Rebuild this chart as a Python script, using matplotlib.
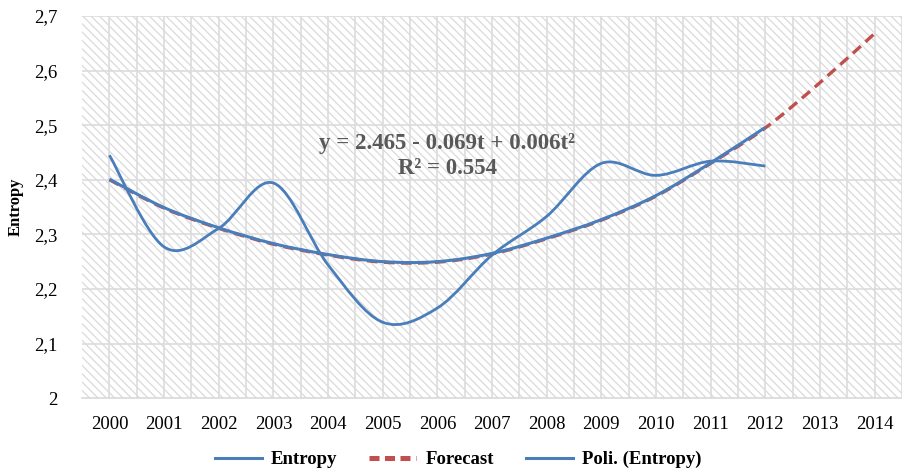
import matplotlib
matplotlib.use("Agg")
import matplotlib.pyplot as plt
from matplotlib.path import Path
from matplotlib.patches import PathPatch, Rectangle
from matplotlib.lines import Line2D
import numpy as np

plt.rcParams['font.family'] = ['Liberation Serif', 'DejaVu Serif']
plt.rcParams['hatch.color'] = '#dadada'
plt.rcParams['hatch.linewidth'] = 0.9

# data
years = ['2000', '2001', '2002', '2003', '2004', '2005', '2006', '2007',
         '2008', '2009', '2010', '2011', '2012', '2013', '2014']
entropy = [2.445, 2.277, 2.311, 2.394, 2.244, 2.139, 2.165, 2.262,
           2.333, 2.430, 2.408, 2.434, 2.425]
forecast = [2.400, 2.348, 2.311, 2.282, 2.262, 2.249, 2.249, 2.264,
            2.292, 2.326, 2.370, 2.430, 2.495, 2.578, 2.668]
poly = [2.401, 2.349, 2.312, 2.283, 2.263, 2.250, 2.250, 2.265,
        2.293, 2.327, 2.371, 2.431, 2.496]

blue = '#4a7ebb'
red = '#c0504d'


def smooth_path(ys):
    # excel-like smoothed line: cubic bezier through the points
    pts = np.column_stack([np.arange(len(ys)), ys]).astype(float)
    verts = [pts[0]]
    codes = [Path.MOVETO]
    n = len(pts)
    for i in range(n - 1):
        p0 = pts[i - 1] if i > 0 else pts[i]
        p3 = pts[i + 2] if i + 2 < n else pts[i + 1]
        c1 = pts[i] + (pts[i + 1] - p0) / 6
        c2 = pts[i + 1] - (p3 - pts[i]) / 6
        verts += [c1, c2, pts[i + 1]]
        codes += [Path.CURVE4] * 3
    return Path(verts, codes)


fig = plt.figure(figsize=(9.02, 4.70), dpi=100)
ax = fig.add_axes([0.091, 0.153, 0.909, 0.813])
ax.set_xlim(-0.5, 14.5)
ax.set_ylim(2.0, 2.7)

ax.add_patch(Rectangle((0, 0), 1, 1, transform=ax.transAxes, facecolor='white',
                       edgecolor='#dadada', hatch='\\\\\\\\', lw=0, zorder=0))

for yv in np.arange(2.1, 2.71, 0.1):
    ax.axhline(yv, color='#dcdcdc', lw=1.2, zorder=1)
for xv in np.arange(0, 14.6, 0.5):
    ax.axvline(xv, color='#dcdcdc', lw=1.2, zorder=1)

ax.add_patch(PathPatch(smooth_path(forecast), fill=False, edgecolor=red, lw=2.4,
                       linestyle=(0, (3.2, 1.9)), zorder=3, capstyle='butt'))
ax.add_patch(PathPatch(smooth_path(poly), fill=False, edgecolor=blue, lw=2.2, zorder=4))
ax.add_patch(PathPatch(smooth_path(entropy), fill=False, edgecolor=blue, lw=2.0, zorder=5))

ax.set_xticks(range(len(years)))
ax.set_xticklabels(years)
ax.set_yticks([2.0, 2.1, 2.2, 2.3, 2.4, 2.5, 2.6, 2.7])
ax.set_yticklabels(['2', '2,1', '2,2', '2,3', '2,4', '2,5', '2,6', '2,7'])
ax.tick_params(axis='both', length=0, labelsize=13.5, colors='#000000')
ax.tick_params(axis='x', pad=13)
ax.tick_params(axis='y', pad=18)
for s in ['top', 'right', 'left']:
    ax.spines[s].set_visible(False)
ax.spines['bottom'].set_color('#d9d9d9')
ax.spines['bottom'].set_linewidth(1.2)

ax.set_ylabel('Entropy', fontsize=12, fontweight='bold')
ax.yaxis.set_label_coords(-0.071, 0.5)

ax.text(6.18, 2.467, 'y = 2.465 - 0.069t + 0.006t²', ha='center', va='center',
        fontsize=16.5, fontweight='bold', color='#595959', zorder=6)
ax.text(6.18, 2.421, 'R² = 0.554', ha='center', va='center',
        fontsize=16.5, fontweight='bold', color='#595959', zorder=6)

handles = [Line2D([], [], color=blue, lw=2.2),
           Line2D([], [], color=red, lw=3.6, linestyle=(0, (2.0, 1.1)),
                  dash_capstyle='butt'),
           Line2D([], [], color=blue, lw=2.2)]
fig.legend(handles, ['Entropy', 'Forecast', 'Poli. (Entropy)'], loc='lower center',
           bbox_to_anchor=(0.508, -0.032), ncol=3, frameon=False, handlelength=2.5,
           handletextpad=0.5, columnspacing=1.7, prop={'size': 13.5, 'weight': 'bold'})

fig.savefig('out.png', dpi=100)
